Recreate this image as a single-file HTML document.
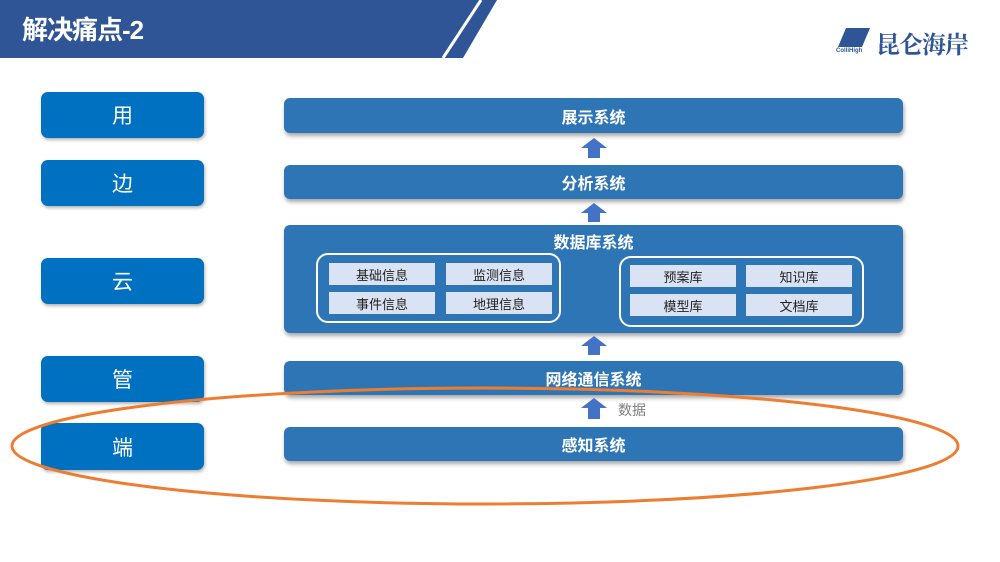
<!DOCTYPE html>
<html><head><meta charset="utf-8"><style>
*{margin:0;padding:0;box-sizing:border-box}
body{width:1000px;height:562px;background:#fff;position:relative;overflow:hidden;font-family:"Liberation Sans","Noto Sans CJK SC",sans-serif}
.a{position:absolute}
.l{position:absolute;left:41px;width:163px;background:#0070c0;border-radius:7px;color:#fff;font-size:21px;display:flex;align-items:center;justify-content:center;box-shadow:1px 2px 3px rgba(0,0,0,.3)}
.r{position:absolute;left:284px;width:619px;background:#2e75b6;border-radius:6px;color:#fff;font-size:16px;font-weight:bold;display:flex;align-items:center;justify-content:center;box-shadow:1px 3px 4px rgba(0,0,0,.35)}
.g{position:absolute;border:2px solid #fff;border-radius:12px}
.b{position:absolute;width:106px;height:22px;background:#dae3f3;color:#222;font-size:13px;display:flex;align-items:center;justify-content:center}
</style></head><body>
<svg class="a" style="left:0;top:0" width="1000" height="562">
<polygon points="0,0 497,0 463,58 0,58" fill="#2f5597"/>
<line x1="481" y1="0" x2="443" y2="58" stroke="#fff" stroke-width="3"/>
<g fill="#2f5597" transform="translate(0,0)">
<polygon points="846,28 870,28 862,47 838,47"/>
</g>
</svg>
<div class="a" style="left:22px;top:10px;color:#fff;font-size:26px;font-weight:bold;letter-spacing:-1px">解决痛点-2</div>
<div class="a" style="left:836px;top:48px;color:#2f5597;font-size:6px;font-weight:bold">ColliHigh</div>
<div class="a" style="left:876px;top:25px;color:#2f5597;font-size:24px;font-weight:bold;font-family:'Noto Serif CJK SC',serif;letter-spacing:-1px">昆仑海岸</div>

<div class="l" style="top:92px;height:46px">用</div>
<div class="l" style="top:160px;height:46px">边</div>
<div class="l" style="top:258px;height:46px">云</div>
<div class="l" style="top:356px;height:46px">管</div>
<div class="l" style="top:423px;height:47px">端</div>

<div class="r" style="top:98px;height:35px">展示系统</div>
<div class="r" style="top:165px;height:34px">分析系统</div>
<div class="r" style="top:225px;height:108px;align-items:flex-start;padding-top:4px">数据库系统</div>
<div class="r" style="top:361px;height:34px">网络通信系统</div>
<div class="r" style="top:427px;height:34px">感知系统</div>

<div class="g" style="left:316px;top:253px;width:245px;height:70px"></div>
<div class="g" style="left:619px;top:256px;width:245px;height:71px"></div>
<div class="b" style="left:329px;top:263px">基础信息</div>
<div class="b" style="left:446px;top:263px">监测信息</div>
<div class="b" style="left:329px;top:292px">事件信息</div>
<div class="b" style="left:446px;top:292px">地理信息</div>
<div class="b" style="left:630px;top:265px">预案库</div>
<div class="b" style="left:746px;top:265px">知识库</div>
<div class="b" style="left:630px;top:294px">模型库</div>
<div class="b" style="left:746px;top:294px">文档库</div>

<svg class="a" style="left:0;top:0" width="1000" height="562">
<g fill="#4472c4">
<polygon points="594,138 607,148 600,148 600,158 588,158 588,148 581,148"/>
<polygon points="594,203 607,213 600,213 600,222 588,222 588,213 581,213"/>
<polygon points="594,336 607,346 600,346 600,355 588,355 588,346 581,346"/>
<polygon points="594,398 607,408 600,408 600,419 588,419 588,408 581,408"/>
</g>
<ellipse cx="485" cy="446" rx="473" ry="58" fill="none" stroke="#ed7d31" stroke-width="3"/>
</svg>
<div class="a" style="left:618px;top:400px;color:#7f7f7f;font-size:14px">数据</div>
</body></html>
